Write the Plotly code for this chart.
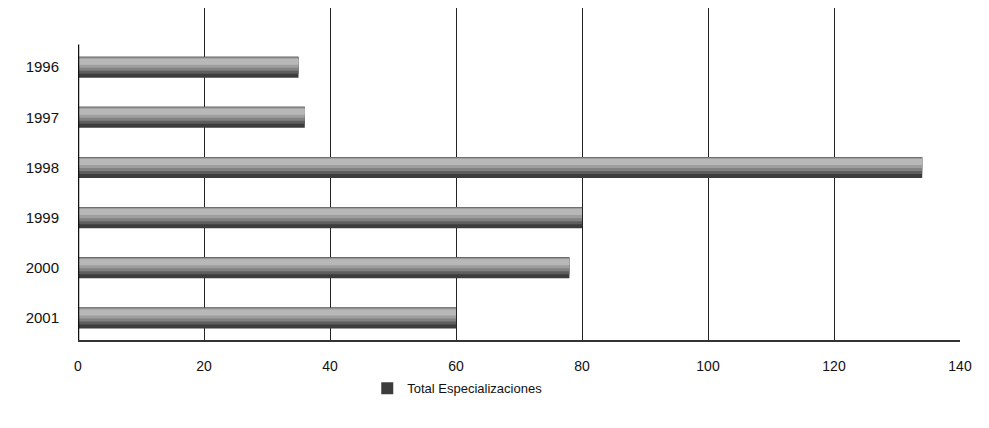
import plotly.graph_objects as go

years = ["1996", "1997", "1998", "1999", "2000", "2001"]
totals = [35, 36, 134, 80, 78, 60]
x_ticks = [0, 20, 40, 60, 80, 100, 120, 140]
series_name = "Total Especializaciones"

fig = go.Figure()

# cylinder-like shading: stacked overlays of the same data
layers = [
    dict(width=0.42, offset=-0.21, color="#3c3c3c", legend=True),
    dict(width=0.34, offset=-0.21, color="#5e5e5e", legend=False),
    dict(width=0.27, offset=-0.20, color="#828282", legend=False),
    dict(width=0.20, offset=-0.19, color="#9e9e9e", legend=False),
    dict(width=0.12, offset=-0.17, color="#b8b8b8", legend=False),
]
for lay in layers:
    fig.add_trace(go.Bar(
        x=totals, y=years, orientation="h",
        width=lay["width"], offset=lay["offset"],
        marker=dict(color=lay["color"], line=dict(width=0)),
        name=series_name, showlegend=lay["legend"],
        legendgroup="t", hoverinfo="skip" if not lay["legend"] else None,
    ))

fig.update_layout(
    width=989, height=428,
    barmode="overlay",
    paper_bgcolor="white", plot_bgcolor="white",
    margin=dict(l=70, r=37, t=0, b=96),
    font=dict(family="Arial, Liberation Sans, sans-serif", size=13, color="#111"),
    xaxis=dict(
        range=[0, 140], tickvals=x_ticks, showgrid=True,
        gridcolor="#222", gridwidth=1, zeroline=False,
        showline=True, linecolor="#333", linewidth=1.5,
        ticks="", ticklabelstandoff=12,
        tickfont=dict(size=14),
    ),
    yaxis=dict(
        categoryorder="array", categoryarray=years,
        range=[5.44, -1.18], showgrid=False, zeroline=False,
        showline=False, ticks="", ticklabelstandoff=18,
        tickfont=dict(size=15),
    ),
    legend=dict(orientation="h", x=0.43, xanchor="center", y=-0.10,
                yanchor="top", font=dict(size=13), itemwidth=30,
                bgcolor="rgba(0,0,0,0)"),
    showlegend=True,
)

fig.add_shape(type="line", xref="x", yref="y domain", x0=0, x1=0,
              y0=0, y1=0.89, line=dict(color="#111", width=2.5))

fig.write_html("out.html")
